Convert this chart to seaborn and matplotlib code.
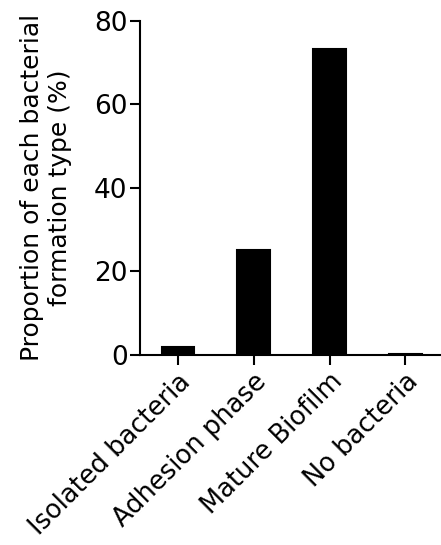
import matplotlib
matplotlib.use("Agg")
import matplotlib.pyplot as plt
import seaborn as sns
import pandas as pd

#categories and values
categories = ['Isolated bacteria', 'Adhesion phase', 'Mature Biofilm', 'No bacteria']
proportions = [1.9, 25.1, 73.3, 0.3]
yticks = [0, 20, 40, 60, 80]

df = pd.DataFrame({'type': categories, 'prop': proportions})

sns.set_style("ticks")
plt.rcParams['font.family'] = ['DejaVu Sans']
plt.rcParams['text.color'] = 'black'
plt.rcParams['axes.labelcolor'] = 'black'
plt.rcParams['xtick.color'] = 'black'
plt.rcParams['ytick.color'] = 'black'
plt.rcParams['axes.edgecolor'] = 'black'

fig = plt.figure(figsize=(4.41, 5.45), dpi=100)
ax = fig.add_axes([0.3175, 0.349, 0.6825, 0.6125])

sns.barplot(data=df, x='type', y='prop', color='black', width=0.43,
            saturation=1, edgecolor='black', linewidth=1.5, ax=ax)

ax.set_ylim(0, 80)
ax.set_xlim(-0.5, 3.47)
ax.set_yticks(yticks)
ax.tick_params(axis='y', labelsize=19, length=7, width=1.5, direction='out', pad=2)
ax.tick_params(axis='x', labelsize=18.5, length=7, width=1.5, direction='out', pad=3)
plt.setp(ax.get_xticklabels(), rotation=45, ha='right', rotation_mode='anchor')

ax.set_xlabel('')
ax.set_ylabel('Proportion of each bacterial\nformation type (%)', fontsize=18, labelpad=16)

sns.despine(ax=ax)
for s in ['left', 'bottom']:
    ax.spines[s].set_linewidth(1.5)

fig.savefig('out.png', dpi=100)
